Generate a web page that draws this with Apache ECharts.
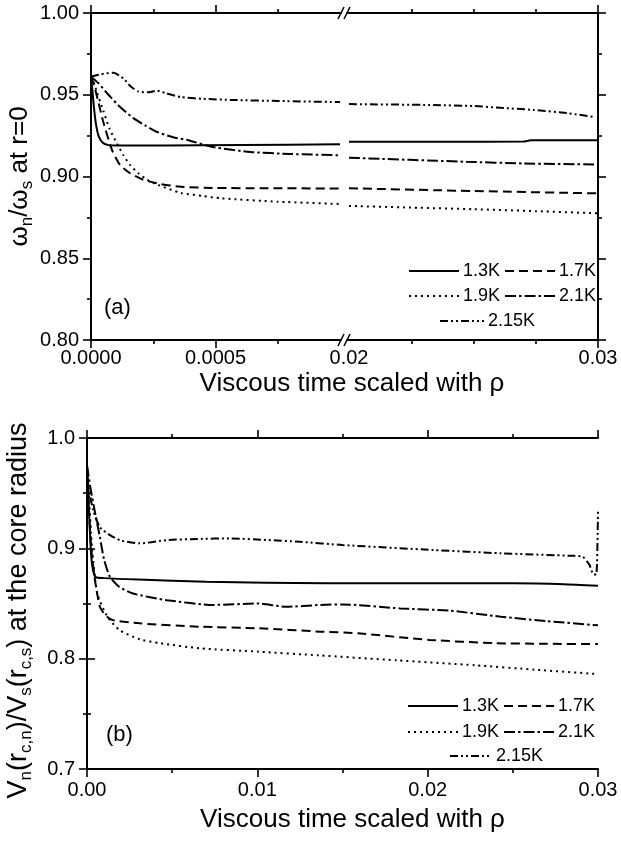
<!DOCTYPE html>
<html><head><meta charset="utf-8">
<script src="https://cdn.jsdelivr.net/npm/echarts@6/dist/echarts.min.js"></script>
<style>html,body{margin:0;padding:0;background:#fff}#c{width:621px;height:842px}</style>
</head><body><div id="c"></div>
<script>
// ---------------- DATA ----------------
const seriesNames = ['1.3K', '1.7K', '1.9K', '2.1K', '2.15K'];

// Panel (a): early times (0 .. 0.001)
const a13E_t  = [0, 0.000006, 0.000012, 0.00002, 0.00003, 0.000045, 0.00007, 0.0001, 0.0003, 0.0006, 0.001];
const a13E_v  = [0.961, 0.952, 0.942, 0.932, 0.925, 0.921, 0.9192, 0.919, 0.919, 0.9193, 0.9197];
const a17E_t  = [0, 0.00001, 0.000024, 0.00005, 0.000085, 0.000117, 0.000157, 0.00021, 0.00028, 0.00036, 0.0005, 0.0007, 0.001];
const a17E_v  = [0.961, 0.957, 0.949, 0.933, 0.916, 0.907, 0.902, 0.898, 0.8954, 0.8937, 0.893, 0.8928, 0.8927];
const a19E_t  = [0, 0.00001, 0.000025, 0.00005, 0.000075, 0.000105, 0.00013, 0.000157, 0.00019, 0.000226, 0.00027, 0.00036, 0.00045, 0.00052, 0.00075, 0.001];
const a19E_v  = [0.961, 0.958, 0.951, 0.940, 0.929, 0.920, 0.913, 0.907, 0.902, 0.898, 0.8948, 0.8900, 0.8880, 0.8867, 0.8846, 0.8832];
const a21E_t  = [0, 0.00003, 0.00007, 0.000117, 0.00017, 0.00022, 0.000266, 0.00033, 0.000387, 0.00049, 0.00064, 0.0008, 0.001];
const a21E_v  = [0.961, 0.957, 0.950, 0.9425, 0.9357, 0.931, 0.9272, 0.924, 0.9223, 0.918, 0.915, 0.9138, 0.913];
const a215E_t = [0, 0.00004, 0.00009, 0.00013, 0.00016, 0.00019, 0.00023, 0.000265, 0.0003, 0.00036, 0.00045, 0.00057, 0.00075, 0.001];
const a215E_v = [0.961, 0.9625, 0.9635, 0.960, 0.955, 0.952, 0.9515, 0.9525, 0.951, 0.9486, 0.9475, 0.9468, 0.9462, 0.9455];

// Panel (a): late times (0.02 .. 0.03)
const a13L_t  = [0.02, 0.024, 0.027, 0.0273, 0.03];
const a13L_v  = [0.9212, 0.9213, 0.9214, 0.9221, 0.9222];
const a17L_t  = [0.02, 0.025, 0.03];
const a17L_v  = [0.8928, 0.8911, 0.8897];
const a19L_t  = [0.02, 0.0225, 0.025, 0.0275, 0.03];
const a19L_v  = [0.882, 0.881, 0.880, 0.8788, 0.8775];
const a21L_t  = [0.02, 0.0247, 0.027, 0.03];
const a21L_v  = [0.9115, 0.909, 0.908, 0.9073];
const a215L_t = [0.02, 0.0234, 0.025, 0.0261, 0.0274, 0.0288, 0.0299];
const a215L_v = [0.9443, 0.9437, 0.9431, 0.942, 0.9407, 0.9387, 0.9362];

// Panel (b)
const b13_t  = [0, 0.0001, 0.0002, 0.0003, 0.0005, 0.001, 0.003, 0.007, 0.014, 0.02, 0.025, 0.028, 0.03];
const b13_v  = [0.975, 0.94, 0.905, 0.885, 0.874, 0.873, 0.8717, 0.8698, 0.8683, 0.8683, 0.8683, 0.8675, 0.866];
const b17_t  = [0, 0.0001, 0.00025, 0.00047, 0.00076, 0.0011, 0.0015, 0.0031, 0.0066, 0.0101, 0.0137, 0.0159, 0.0201, 0.024, 0.027, 0.03];
const b17_v  = [0.975, 0.94, 0.90, 0.871, 0.847, 0.839, 0.835, 0.832, 0.829, 0.8275, 0.8245, 0.823, 0.817, 0.814, 0.8135, 0.8132];
const b19_t  = [0, 0.0001, 0.0003, 0.0006, 0.0012, 0.0019, 0.0031, 0.0043, 0.0066, 0.0101, 0.0136, 0.0182, 0.0228, 0.0263, 0.03];
const b19_v  = [0.975, 0.95, 0.90, 0.859, 0.838, 0.826, 0.8175, 0.814, 0.8094, 0.8063, 0.803, 0.7985, 0.794, 0.790, 0.786];
const b21_t  = [0, 0.0002, 0.0005, 0.00076, 0.001, 0.00135, 0.0019, 0.0027, 0.0047, 0.0074, 0.01, 0.0117, 0.0137, 0.015, 0.0184, 0.0213, 0.0243, 0.027, 0.03];
const b21_v  = [0.975, 0.955, 0.93, 0.91, 0.89, 0.874, 0.865, 0.859, 0.853, 0.8487, 0.85, 0.847, 0.8487, 0.8492, 0.8455, 0.8435, 0.838, 0.834, 0.8302];
const b215_t = [0, 0.0001, 0.00035, 0.00076, 0.00135, 0.002, 0.0031, 0.0047, 0.0065, 0.0084, 0.0106, 0.0125, 0.015, 0.0203, 0.0243, 0.0285, 0.0291, 0.0295, 0.0297, 0.0299, 0.03];
const b215_v = [0.965, 0.955, 0.935, 0.919, 0.912, 0.907, 0.9045, 0.9075, 0.9085, 0.909, 0.9075, 0.906, 0.903, 0.8985, 0.8955, 0.8932, 0.8924, 0.885, 0.877, 0.876, 0.935];

// Tick values
const aEarlyLabels = [0, 0.0005];
const aEarlyMinor  = [0.00025, 0.00075];
const aLateLabels  = [0.02, 0.03];
const aLateMinor   = [0.0225, 0.025, 0.0275];

// ---------------- STYLE / LAYOUT ----------------
const FONT = '"Liberation Sans", Arial, Helvetica, sans-serif';
const BLACK = '#000';
const dash = {'1.3K': 'solid', '1.7K': [9, 5], '1.9K': [2, 4], '2.1K': [11, 3, 2.5, 3], '2.15K': [8, 3, 2, 3, 2, 3]};

const PA = {left: 91, top: 13, bottom: 340, right: 598, earlyEnd: 340, brkL: 341, brkR: 347, lateStart: 349};
const PB = {left: 87, top: 438, right: 598, bottom: 769};
const earlyMax = 0.001 * (PA.brkL - PA.left) / (PA.earlyEnd - PA.left);
const lateMin = 0.02 - 0.01 * (PA.lateStart - PA.brkR) / (PA.right - PA.lateStart);

const zip = (t, v) => t.map((x, i) => [x, v[i]]);
const axLine = {show: true, lineStyle: {color: BLACK, width: 2}};
const tickStyle = {color: BLACK, width: 1.6};
const labelStyle = {color: BLACK, fontFamily: FONT, fontSize: 20};

function xAx(grid, pos, min, max, tickVals, len, labelVals, fmt, line) {
  return {
    type: 'value', gridIndex: grid, position: pos, min: min, max: max,
    axisLine: line ? axLine : {show: false},
    splitLine: {show: false},
    axisTick: {show: true, inside: false, length: len, lineStyle: tickStyle, customValues: tickVals},
    axisLabel: labelVals ? Object.assign({show: true, margin: 8, customValues: labelVals, formatter: v => v.toFixed(fmt)}, labelStyle) : {show: false},
    minorTick: {show: false}
  };
}

const yMain = (grid, pos, min, max, interval, fmt, showLabel, name, nameGap, rich, pad) => ({
  type: 'value', gridIndex: grid, position: pos, min: min, max: max, interval: interval,
  axisLine: axLine, splitLine: {show: false}, minorSplitLine: {show: false},
  axisTick: {show: true, inside: false, length: 8, lineStyle: tickStyle},
  minorTick: {show: true, splitNumber: 2, length: 4, lineStyle: tickStyle},
  axisLabel: showLabel ? Object.assign({show: true, margin: 12, formatter: v => v.toFixed(fmt)}, labelStyle) : {show: false},
  name: name || '', nameLocation: 'middle', nameRotate: 90, nameGap: nameGap || 0, nameMoveOverlap: false,
  nameTextStyle: rich ? {rich: rich, padding: pad || 0} : {}
});

const t26 = {fontFamily: FONT, fontSize: 26, color: BLACK, lineHeight: 32};
const s17 = {fontFamily: FONT, fontSize: 17, color: BLACK, lineHeight: 14, verticalAlign: 'bottom'};
const richY = {t: t26, s: s17};
const t27 = {fontFamily: FONT, fontSize: 27, color: BLACK, lineHeight: 32};
const richYB = {t: t27, s: s17};

const xAxes = [
  xAx(0, 'bottom', 0, earlyMax, aEarlyLabels, 8, aEarlyLabels, 4, true),
  xAx(0, 'bottom', 0, earlyMax, aEarlyMinor, 4, null, 4, false),
  xAx(0, 'top', 0, earlyMax, aEarlyLabels, 8, null, 4, true),
  xAx(0, 'top', 0, earlyMax, aEarlyMinor, 4, null, 4, false),
  xAx(1, 'bottom', lateMin, 0.03, [0.03], 8, aLateLabels, 2, true),
  xAx(1, 'bottom', lateMin, 0.03, aLateMinor, 4, null, 2, false),
  xAx(1, 'top', lateMin, 0.03, [0.03], 8, null, 2, true),
  xAx(1, 'top', lateMin, 0.03, aLateMinor, 4, null, 2, false),
  {
    type: 'value', gridIndex: 2, position: 'bottom', min: 0, max: 0.03, interval: 0.01,
    axisLine: axLine, splitLine: {show: false},
    axisTick: {show: true, length: 8, lineStyle: tickStyle},
    minorTick: {show: true, splitNumber: 2, length: 4, lineStyle: tickStyle},
    axisLabel: Object.assign({margin: 11, formatter: v => v.toFixed(2)}, labelStyle),
    name: 'Viscous time scaled with ρ', nameLocation: 'middle', nameGap: 38, nameMoveOverlap: false,
    nameTextStyle: {fontFamily: FONT, fontSize: 26, color: BLACK, padding: [0, 0, 0, 20]}
  },
  {
    type: 'value', gridIndex: 2, position: 'top', min: 0, max: 0.03, interval: 0.01,
    axisLine: axLine, splitLine: {show: false},
    axisTick: {show: true, length: 8, lineStyle: tickStyle},
    minorTick: {show: true, splitNumber: 2, length: 4, lineStyle: tickStyle},
    axisLabel: {show: false}
  }
];

const yAxes = [
  yMain(0, 'left', 0.8, 1.0, 0.05, 2, true,
        '{t|ω}{s|n}{t|/ω}{s|s}{t| at r=0}', 55, richY),
  yMain(1, 'right', 0.8, 1.0, 0.05, 2, false),
  yMain(2, 'left', 0.7, 1.0, 0.1, 1, true,
        '{t|V}{s|n}{t|(r}{s|c,n}{t|)/V}{s|s}{t|(r}{s|c,s}{t|) at the core radius}', 52, richYB, [0, 14, 0, 0]),
  yMain(2, 'right', 0.7, 1.0, 0.1, 1, false)
];

function line(name, data, xi, yi) {
  return {
    type: 'line', name: name, xAxisIndex: xi, yAxisIndex: yi, data: data,
    symbol: 'none', smooth: 0.2, clip: true, silent: true,
    lineStyle: {color: BLACK, width: 2, type: dash[name]},
    itemStyle: {color: BLACK}
  };
}

const series = [
  line('1.3K', zip(a13E_t, a13E_v), 0, 0),
  line('1.7K', zip(a17E_t, a17E_v), 0, 0),
  line('1.9K', zip(a19E_t, a19E_v), 0, 0),
  line('2.1K', zip(a21E_t, a21E_v), 0, 0),
  line('2.15K', zip(a215E_t, a215E_v), 0, 0),
  line('1.3K', zip(a13L_t, a13L_v), 4, 1),
  line('1.7K', zip(a17L_t, a17L_v), 4, 1),
  line('1.9K', zip(a19L_t, a19L_v), 4, 1),
  line('2.1K', zip(a21L_t, a21L_v), 4, 1),
  line('2.15K', zip(a215L_t, a215L_v), 4, 1),
  line('1.3K', zip(b13_t, b13_v), 8, 2),
  line('1.7K', zip(b17_t, b17_v), 8, 2),
  line('1.9K', zip(b19_t, b19_v), 8, 2),
  line('2.1K', zip(b21_t, b21_v), 8, 2),
  line('2.15K', zip(b215_t, b215_v), 8, 2)
];

const legendBase = {
  orient: 'horizontal', itemGap: 4, itemWidth: 50, itemHeight: 12, padding: 0,
  selectedMode: false,
  itemStyle: {opacity: 0, color: 'transparent', borderWidth: 0},
  textStyle: {fontFamily: FONT, fontSize: 18, color: BLACK, padding: [0, 0, 0, -1]}
};
const legends = [
  Object.assign({}, legendBase, {data: ['1.3K', '1.7K'], left: 408, top: 262}),
  Object.assign({}, legendBase, {data: ['1.9K', '2.1K'], left: 408, top: 287}),
  Object.assign({}, legendBase, {data: ['2.15K'], left: 439, top: 312, itemWidth: 44}),
  Object.assign({}, legendBase, {data: ['1.3K', '1.7K'], left: 407, top: 697}),
  Object.assign({}, legendBase, {data: ['1.9K', '2.1K'], left: 407, top: 723}),
  Object.assign({}, legendBase, {data: ['2.15K'], left: 449, top: 747, itemWidth: 42})
];

// break marks "//" on the split x-axis of panel (a)
function brk(y) {
  const cx = (PA.brkL + PA.brkR) / 2;
  const mk = (dx) => ({type: 'line', silent: true, z: 100,
    shape: {x1: cx + dx - 3, y1: y + 6, x2: cx + dx + 3, y2: y - 6},
    style: {stroke: BLACK, lineWidth: 1.6}});
  return [mk(-3), mk(3)];
}

const graphic = [
  ...brk(PA.bottom), ...brk(PA.top),
  {type: 'text', x: 352, y: 371, silent: true,
   style: {text: 'Viscous time scaled with ρ', font: '26px ' + FONT, fill: BLACK, align: 'center', verticalAlign: 'top'}},
  {type: 'text', x: 104, y: 308, silent: true,
   style: {text: '(a)', font: '22px ' + FONT, fill: BLACK, align: 'left', verticalAlign: 'middle'}},
  {type: 'text', x: 106, y: 735, silent: true,
   style: {text: '(b)', font: '22px ' + FONT, fill: BLACK, align: 'left', verticalAlign: 'middle'}}
];

const chart = echarts.init(document.getElementById('c'), null, {renderer: 'canvas'});
chart.setOption({
  backgroundColor: '#fff',
  animation: false,
  grid: [
    {left: PA.left, top: PA.top, width: PA.brkL - PA.left, height: PA.bottom - PA.top, outerBoundsMode: 'none'},
    {left: PA.brkR, top: PA.top, width: PA.right - PA.brkR, height: PA.bottom - PA.top, outerBoundsMode: 'none'},
    {left: PB.left, top: PB.top, width: PB.right - PB.left, height: PB.bottom - PB.top, outerBoundsMode: 'none'}
  ],
  xAxis: xAxes,
  yAxis: yAxes,
  legend: legends,
  series: series,
  graphic: graphic
});
</script></body></html>
